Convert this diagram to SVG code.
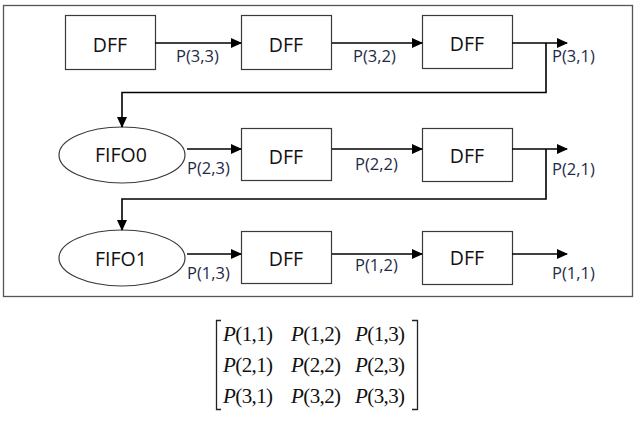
<svg xmlns="http://www.w3.org/2000/svg" width="640" height="421" viewBox="0 0 640 421">
<style>
.box{fill:#fff;stroke:#3a3a3a;stroke-width:1.2}
.nt{font-family:"Open Sans","Liberation Sans",sans-serif;font-size:19.5px;fill:#111;text-anchor:middle}
.lb{font-family:"Open Sans","Liberation Sans",sans-serif;font-size:16.5px;fill:#1f2a48}
.ln{fill:none;stroke:#000;stroke-width:1.6}
.mx{font-family:"Liberation Serif","Times New Roman",serif;font-size:21px;fill:#111;letter-spacing:-0.6px}
.mx tspan.i{font-style:italic}
.br{fill:none;stroke:#222;stroke-width:1.3}
</style>
<defs>
<marker id="ah" markerWidth="11" markerHeight="10" refX="10" refY="5" orient="auto" markerUnits="userSpaceOnUse">
<path d="M0,0 L11,5 L0,10 Z" fill="#000"/>
</marker>
</defs>
<rect x="0" y="0" width="640" height="421" fill="#fff"/>
<rect x="3.5" y="5.5" width="629" height="291" fill="none" stroke="#555" stroke-width="1.3"/>

<g id="dff11"><rect class="box" x="65.5" y="15.5" width="90" height="54"/><text class="nt" x="110" y="52">DFF</text></g>
<g id="dff12"><rect class="box" x="241.5" y="15.5" width="90" height="54"/><text class="nt" x="286" y="52">DFF</text></g>
<g id="dff13"><rect class="box" x="422.5" y="15.5" width="90" height="53"/><text class="nt" x="467" y="51">DFF</text></g>

<g id="fifo0"><ellipse class="box" cx="122" cy="155" rx="63" ry="28"/><text class="nt" x="121" y="162">FIFO0</text></g>
<g id="dff21"><rect class="box" x="241.5" y="128.5" width="90" height="52"/><text class="nt" x="286" y="164">DFF</text></g>
<g id="dff22"><rect class="box" x="422.5" y="128.5" width="90" height="53"/><text class="nt" x="467" y="163">DFF</text></g>

<g id="fifo1"><ellipse class="box" cx="122" cy="258" rx="63" ry="28"/><text class="nt" x="121" y="266">FIFO1</text></g>
<g id="dff31"><rect class="box" x="241.5" y="231.5" width="90" height="52"/><text class="nt" x="286" y="266">DFF</text></g>
<g id="dff32"><rect class="box" x="422.5" y="231.5" width="90" height="53"/><text class="nt" x="467" y="265">DFF</text></g>

<g id="connectors">
<line class="ln" x1="155" y1="43" x2="241" y2="43" marker-end="url(#ah)"/>
<line class="ln" x1="332" y1="43" x2="422" y2="43" marker-end="url(#ah)"/>
<line class="ln" x1="512" y1="43" x2="567" y2="43" marker-end="url(#ah)"/>
<polyline class="ln" points="546,43 546,92.5 122,92.5 122,127" marker-end="url(#ah)"/>

<line class="ln" x1="187" y1="149" x2="241" y2="149" marker-end="url(#ah)"/>
<line class="ln" x1="332" y1="149" x2="422" y2="149" marker-end="url(#ah)"/>
<line class="ln" x1="512" y1="149" x2="567" y2="149" marker-end="url(#ah)"/>
<polyline class="ln" points="546,149 546,199 122,199 122,230" marker-end="url(#ah)"/>

<line class="ln" x1="187" y1="254" x2="241" y2="254" marker-end="url(#ah)"/>
<line class="ln" x1="332" y1="254" x2="422" y2="254" marker-end="url(#ah)"/>
<line class="ln" x1="512" y1="254" x2="567" y2="254" marker-end="url(#ah)"/>

<text class="lb" x="176" y="62">P(3,3)</text>
<text class="lb" x="353" y="62">P(3,2)</text>
<text class="lb" x="552" y="62">P(3,1)</text>
<text class="lb" x="187" y="174">P(2,3)</text>
<text class="lb" x="355" y="170">P(2,2)</text>
<text class="lb" x="552" y="175">P(2,1)</text>
<text class="lb" x="187" y="279">P(1,3)</text>
<text class="lb" x="355" y="271">P(1,2)</text>
<text class="lb" x="552" y="279">P(1,1)</text>
</g>

<g id="matrix">
<path class="br" d="M221,320.5 H216.5 V409.5 H221"/>
<path class="br" d="M412,320.5 H417.5 V409.5 H412"/>
<text class="mx" x="223" y="341"><tspan class="i">P</tspan>(1,1)</text>
<text class="mx" x="291" y="341"><tspan class="i">P</tspan>(1,2)</text>
<text class="mx" x="355" y="341"><tspan class="i">P</tspan>(1,3)</text>
<text class="mx" x="223" y="372"><tspan class="i">P</tspan>(2,1)</text>
<text class="mx" x="291" y="372"><tspan class="i">P</tspan>(2,2)</text>
<text class="mx" x="355" y="372"><tspan class="i">P</tspan>(2,3)</text>
<text class="mx" x="223" y="403"><tspan class="i">P</tspan>(3,1)</text>
<text class="mx" x="291" y="403"><tspan class="i">P</tspan>(3,2)</text>
<text class="mx" x="355" y="403"><tspan class="i">P</tspan>(3,3)</text>
</g>
</svg>
